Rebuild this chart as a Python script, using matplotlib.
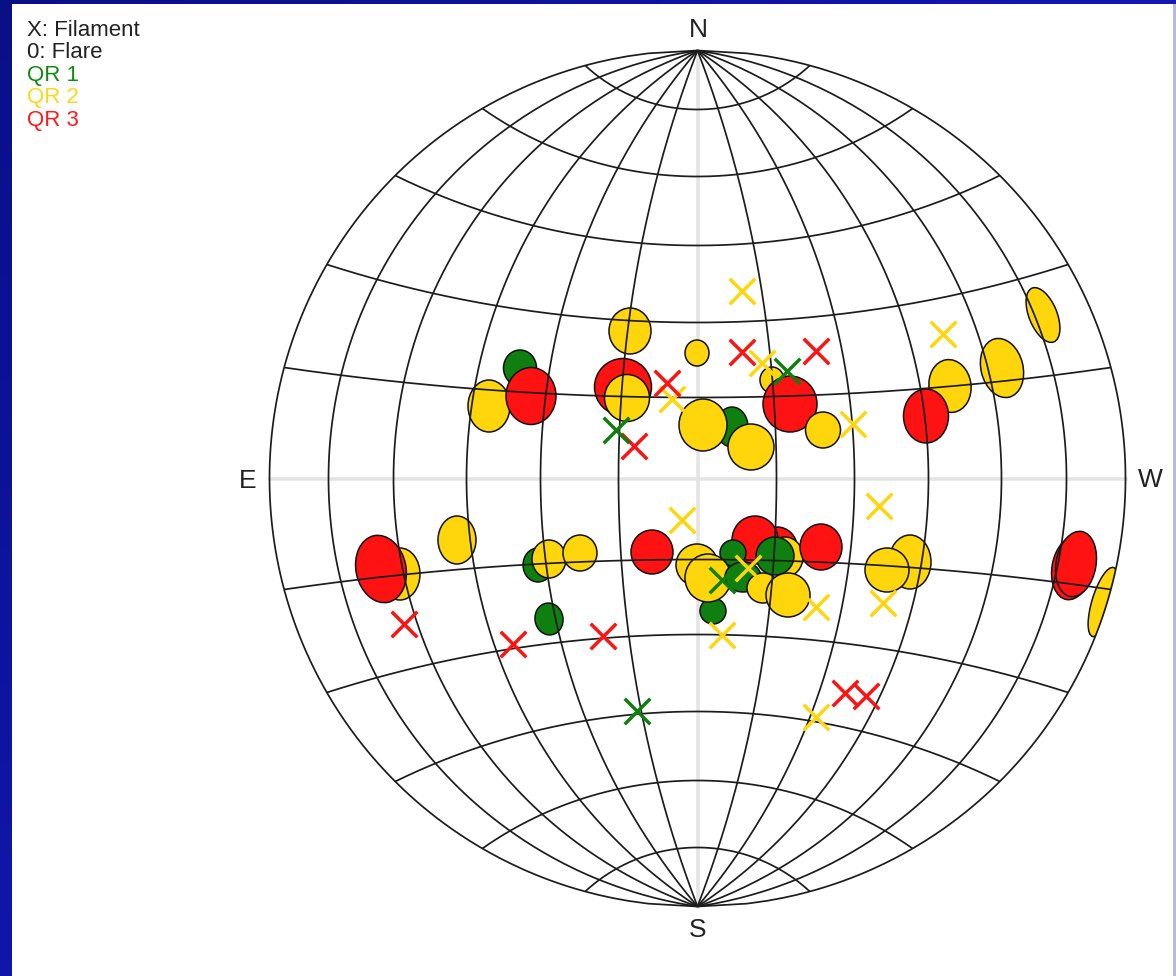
import numpy as np
import matplotlib
matplotlib.use("Agg")
import matplotlib.pyplot as plt
from matplotlib.colors import LinearSegmentedColormap
from matplotlib.patches import Circle, Ellipse

W, H = 1176, 976
CX, CY, R = 697.5, 478.5, 428.0

# grid: offsets from disc centre
MERIDIAN_OFFSETS = [79, 157, 231, 304, 369, 428]
PARALLEL_CENTRE = [81, 156, 233, 302, 369]
PARALLEL_EDGE = [111, 214, 303, 370, 413]

# legend and direction labels
LEGEND_TEXT = ["X: Filament", "0: Flare", "QR 1", "QR 2", "QR 3"]
LEGEND_COLORS = ["#222222", "#222222", "#0f8a12", "#ffd614", "#ff1a1a"]
COMPASS = ["N", "S", "E", "W"]

GREEN, YELLOW, RED = "#0f7f10", "#ffd60c", "#ff1212"
CODES = {"g": GREEN, "y": YELLOW, "r": RED}

# flares, back to front
FLARE_C = ["g","y","r","r","y","y","y","y","y","r",
           "g","y","y","g","r","y","y","y","r","y",
           "g","y","y","r","r","r","y","g","g","g",
           "y","y","g","y","y","y","r","r","y","y","r"]
FLARE_X = [520,489,531,623,627,630,697,457,400,381,
           538,549,580,549,652,1043,1002,950,926,772,
           732,703,751,790,777,755,785,775,733,713,
           697,708,743,763,788,823,1072,1076,910,887,821]
FLARE_Y = [368,406,396,387,398,331,353,540,574,569,
           565,559,553,619,552,315,368,386,416,380,
           427,425,447,404,547,540,557,556,553,611,
           565,578,577,588,595,430,568,564,562,570,547]
FLARE_W = [33,42,50,57,45,42,24,38,40,50,
           30,34,34,28,42,28,42,42,45,24,
           32,48,46,54,40,46,36,38,26,26,
           42,46,36,32,44,35,40,40,42,44,42]
FLARE_H = [36,52,57,57,47,46,26,48,52,68,
           34,38,36,32,44,58,60,53,54,26,
           40,52,46,56,40,48,40,38,26,26,
           42,48,30,30,44,36,64,66,54,44,46]
FLARE_T = [0,0,0,0,0,0,0,0,0,-12,
           0,0,0,-10,0,-22,-14,-8,0,0,
           0,0,0,0,0,0,0,0,0,0,
           0,0,0,0,0,0,10,10,0,0,0]
# one thin flare cut by the west limb
LIMB_X, LIMB_Y, LIMB_W, LIMB_H, LIMB_T = [1103], [602], [22], [72], [17]

# filaments
YELLOW_X = [742,943,762,672,853,879,682,816,883,722,748,816]
YELLOW_Y = [291,334,363,399,424,506,520,607,603,635,568,717]
RED_X = [742,816,667,634,404,513,603,845,866]
RED_Y = [352,351,383,446,624,644,636,693,696]
GREEN_X = [787,616,722,637]
GREEN_Y = [371,430,580,711]


def arc(half_chord, mid_offset, edge_offset, n=300):
    """Arc through (+-half_chord, edge_offset) and (0, mid_offset)."""
    s = edge_offset - mid_offset
    t = np.linspace(-half_chord, half_chord, n)
    r = (half_chord ** 2 + s ** 2) / (2 * abs(s))
    return t, mid_offset + np.sign(s) * (r - np.sqrt(r ** 2 - t ** 2))


fig = plt.figure(figsize=(W / 100, H / 100), dpi=100, facecolor="white")
ax = fig.add_axes([0, 0, 1, 1])
ax.axis("off")

# slide frame
ax.imshow(np.linspace(0, 1, 64).reshape(-1, 1), extent=(0, 12, H, 0), aspect="auto",
          cmap=LinearSegmentedColormap.from_list("a", ["#0a0f88", "#1016aa"]), zorder=1)
ax.imshow(np.linspace(0, 1, 64).reshape(1, -1), extent=(0, W, 4, 0), aspect="auto",
          cmap=LinearSegmentedColormap.from_list("b", ["#0a0f88", "#1416b4"]), zorder=1)
ax.fill_between([1172.5, W], 4, H, color="#b8b8e8", lw=0, zorder=1)
ax.set_xlim(0, W)
ax.set_ylim(H, 0)

GL = dict(color="#1c1c1c", lw=1.25, zorder=4, solid_capstyle="butt")
# equator and central meridian
ax.plot([CX - R, CX + R], [CY, CY], color="#e4e4e4", lw=2.6, zorder=1.5)
ax.plot([CX, CX], [CY - R, CY + R], color="#e4e4e4", lw=2.6, zorder=1.5)

for d in MERIDIAN_OFFSETS:
    t, off = arc(R, d, 0)
    ax.plot(CX + off, CY + t, **GL)
    ax.plot(CX - off, CY + t, **GL)
for c, e in zip(PARALLEL_CENTRE, PARALLEL_EDGE):
    half = np.sqrt(R ** 2 - e ** 2)
    t, off = arc(half, c, e)
    ax.plot(CX + t, CY - off, **GL)
    ax.plot(CX + t, CY + off, **GL)

for i, (c, x, y, w, h, a) in enumerate(zip(FLARE_C, FLARE_X, FLARE_Y, FLARE_W, FLARE_H, FLARE_T)):
    ax.add_patch(Ellipse((x, y), w, h, angle=a, facecolor=CODES[c], edgecolor="#111111",
                         lw=1.1, zorder=2 + i * 0.01))
disc = Circle((CX, CY), R, transform=ax.transData)
for x, y, w, h, a in zip(LIMB_X, LIMB_Y, LIMB_W, LIMB_H, LIMB_T):
    limb = Ellipse((x, y), w, h, angle=a, facecolor=YELLOW, edgecolor="#111111", lw=1.1, zorder=2)
    ax.add_patch(limb)
    limb.set_clip_path(disc)

MK = dict(marker="x", s=340, linewidths=2.5, zorder=5)
ax.scatter(YELLOW_X, YELLOW_Y, color=YELLOW, **MK)
ax.scatter(RED_X, RED_Y, color=RED, **MK)
ax.scatter(GREEN_X, GREEN_Y, color=GREEN, **MK)

FONT = ["Liberation Sans", "DejaVu Sans"]
for text, color, y in zip(LEGEND_TEXT, LEGEND_COLORS, [30, 53, 75.5, 98, 120.5]):
    ax.text(27, y, text, color=color, fontsize=16, family=FONT, va="center", ha="left", zorder=6)
for text, x, y in zip(COMPASS, [698, 698, 248, 1150], [30, 930, 481, 480]):
    ax.text(x, y, text, color="#222222", fontsize=19, family=FONT, va="center", ha="center", zorder=6)

fig.savefig("out.png", dpi=100, facecolor="white")
